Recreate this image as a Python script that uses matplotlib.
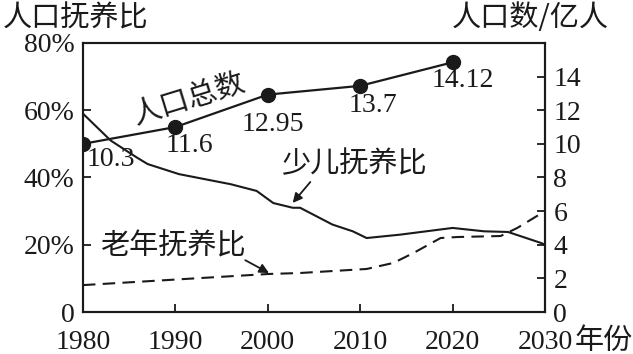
import matplotlib
matplotlib.use("Agg")
from matplotlib import pyplot as plt

# population (100 million): dot heights as drawn in the picture, with their printed labels
pop_years = [1980, 1990, 2000, 2010, 2020]
pop_values = [10.0, 11.0, 12.93, 13.45, 14.85]
pop_labels = ["10.3", "11.6", "12.95", "13.7", "14.12"]

# child dependency ratio (%)
child_years = [1980, 1983, 1985.8, 1987, 1990.4, 1996, 1998.8, 2000.6, 2002.7, 2003.5,
               2007, 2009.2, 2010.7, 2014.3, 2020, 2023.4, 2026, 2029.6, 2030]
child_values = [59, 51, 46, 44, 41, 38, 36, 32.4, 31, 31,
                26, 24, 22, 23, 25, 24, 23.8, 20.5, 20]

# old-age dependency ratio (%)
old_years = [1980, 2000, 2003.5, 2010.7, 2013.6, 2015.8, 2018.7, 2020.5, 2025.2, 2027, 2030]
old_values = [8, 11.3, 11.6, 12.8, 14.6, 17.6, 22, 22.3, 22.6, 25, 30]

x_ticks = [1980, 1990, 2000, 2010, 2020, 2030]
left_ticks = [0, 20, 40, 60, 80]
left_labels = ["0", "20%", "40%", "60%", "80%"]
right_ticks = [0, 2, 4, 6, 8, 10, 12, 14]

NUM_FONT = "Liberation Serif"
CJK_FONT = ["Noto Sans CJK SC", "DejaVu Sans"]
INK = "#1a1a1a"

fig = plt.figure(figsize=(6.33, 3.54), dpi=100)
ax = fig.add_axes([0.131, 0.1186, 0.730, 0.760])
ax2 = ax.twinx()

ax.plot(child_years, child_values, color=INK, lw=1.5)
ax.plot(old_years, old_values, color=INK, lw=1.5, dashes=(6, 3.5))
ax2.plot(pop_years, pop_values, color=INK, lw=1.6, marker="o", ms=10)

# label offsets below each dot (points)
label_offsets = [(3, -2), (10, -4), (4, -12.5), (9, -5), (7, -4)]
for yr, v, lab, off in zip(pop_years, pop_values, pop_labels, label_offsets):
    ha = "left" if yr == 1980 else "center"
    ax2.annotate(lab, (yr, v), xytext=off, textcoords="offset points",
                 ha=ha, va="top", fontsize=20, family=NUM_FONT, color=INK)

ax.set_xlim(1980, 2030)
ax.set_ylim(0, 80)
ax2.set_ylim(0, 16)

ax.set_xticks(x_ticks)
ax.set_xticklabels([str(t) for t in x_ticks], family=NUM_FONT, fontsize=20)
ax.set_yticks(left_ticks)
ax.set_yticklabels(left_labels, family=NUM_FONT, fontsize=20)
ax2.set_yticks(right_ticks)
ax2.set_yticklabels([str(t) for t in right_ticks], family=NUM_FONT, fontsize=20)

for a in (ax, ax2):
    a.tick_params(direction="in", length=6, width=1.3, color=INK, labelcolor=INK, pad=6)
    for s in a.spines.values():
        s.set_linewidth(1.5)
        s.set_color(INK)
ax.tick_params(axis="x", pad=13)

# titles
fig.text(0.005, 0.948, "人口抚养比", family=CJK_FONT, fontsize=21,
         ha="left", va="center", color=INK)
fig.text(0.962, 0.948, "人口数/亿人", family=CJK_FONT, fontsize=21,
         ha="right", va="center", color=INK)
fig.text(1.0, 0.038, "年份", family=CJK_FONT, fontsize=21,
         ha="right", va="center", color=INK)

# series annotations
ax.text(1991.5, 63, "人口总数", family=CJK_FONT, fontsize=21, rotation=17,
        ha="center", va="center", color=INK)
ax.text(2009.3, 44, "少儿抚养比", family=CJK_FONT, fontsize=21,
        ha="center", va="center", color=INK)
ax.text(1989.7, 19.6, "老年抚养比", family=CJK_FONT, fontsize=21,
        ha="center", va="center", color=INK)
ax.annotate("", xy=(2002.5, 31.8), xytext=(2004.8, 39.3),
            arrowprops=dict(arrowstyle="-|>", color=INK, lw=1.3, mutation_scale=14))
ax.annotate("", xy=(2000.4, 11.2), xytext=(1997.3, 15.8),
            arrowprops=dict(arrowstyle="-|>", color=INK, lw=1.3, mutation_scale=14))

fig.savefig("out.png", dpi=100)
